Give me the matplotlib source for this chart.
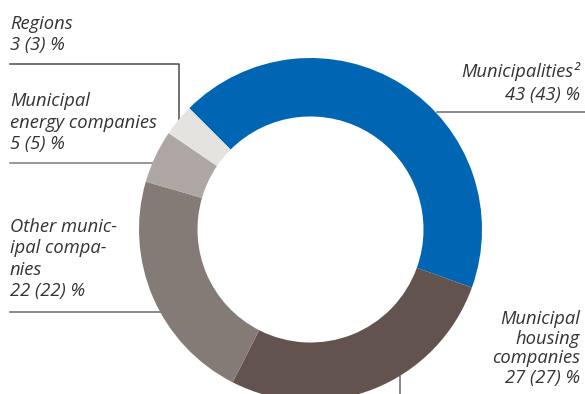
import matplotlib.pyplot as plt

# municipal sector ownership split, current year (previous year in brackets)
categories = [
    "Municipalities",
    "Municipal housing companies",
    "Other municipal companies",
    "Municipal energy companies",
    "Regions",
]
share_now = [43, 27, 22, 5, 3]
share_prev = [43, 27, 22, 5, 3]
colors = ["#0066B3", "#62534E", "#847A76", "#ADA6A2", "#E4E3DF"]

# label text as printed, wrapped by hand
label_lines = [
    ["Municipalities\u00b2"],
    ["Municipal", "housing", "companies"],
    ["Other munic-", "ipal compa-", "nies"],
    ["Municipal", "energy companies"],
    ["Regions"],
]

W, H = 585, 394
TEXT_COLOR = "#333333"
LINE_COLOR = "#6a6a6a"
FONT = ["Open Sans", "DejaVu Sans"]


def px_axes(fig):
    ax = fig.add_axes([0, 0, 1, 1])
    ax.set_xlim(0, W)
    ax.set_ylim(H, 0)
    ax.axis("off")
    return ax


def draw_label(ax, lines, x, first_baseline, step, ha):
    for i, line in enumerate(lines):
        ax.text(
            x,
            first_baseline + i * step,
            line,
            ha=ha,
            va="baseline",
            fontsize=13.2,
            style="italic",
            color=TEXT_COLOR,
            family=FONT,
        )


def main():
    fig = plt.figure(figsize=(W / 100, H / 100), dpi=100)
    fig.patch.set_facecolor("white")

    overlay = px_axes(fig)

    # donut, centre (310.5, 229.5) px, outer radius 171.5 px
    cx, cy, r = 310.5, 229.5, 171.5
    pie_ax = fig.add_axes(
        [(cx - r) / W, (H - cy - r) / H, 2 * r / W, 2 * r / H]
    )
    wedges, _ = pie_ax.pie(
        share_now,
        colors=colors,
        startangle=135,
        counterclock=False,
        radius=1.0,
        wedgeprops=dict(width=0.341, edgecolor="none"),
    )
    for w in wedges:
        w.set_clip_on(False)
    pie_ax.set_xlim(-1, 1)
    pie_ax.set_ylim(-1, 1)
    pie_ax.set_aspect("equal")
    pie_ax.axis("off")

    value_text = [f"{a} ({b}) %" for a, b in zip(share_now, share_prev)]

    # leader lines
    overlay.plot([10, 179, 179], [64, 64, 121], color="#4a4a4a", lw=1.1)
    overlay.plot([10, 153], [163, 163], color="#7a7a7a", lw=1.1)
    overlay.plot([10, 161], [312, 312], color=LINE_COLOR, lw=1.1)
    overlay.plot([437, 585], [112, 112], color=LINE_COLOR, lw=1.1)
    overlay.plot([400, 400], [376, 394], color=LINE_COLOR, lw=1.1)

    # labels
    draw_label(overlay, label_lines[4] + [value_text[4]], 10, 29, 21, "left")
    draw_label(overlay, label_lines[3] + [value_text[3]], 10, 106, 21.5, "left")
    draw_label(overlay, label_lines[2] + [value_text[2]], 10, 232, 21.3, "left")
    draw_label(overlay, label_lines[0] + [value_text[0]], 580, 77, 23, "right")
    draw_label(overlay, label_lines[1] + [value_text[1]], 580, 324, 19.7, "right")

    fig.savefig("out.png", dpi=100, facecolor="white")
    plt.close(fig)


if __name__ == "__main__":
    main()
